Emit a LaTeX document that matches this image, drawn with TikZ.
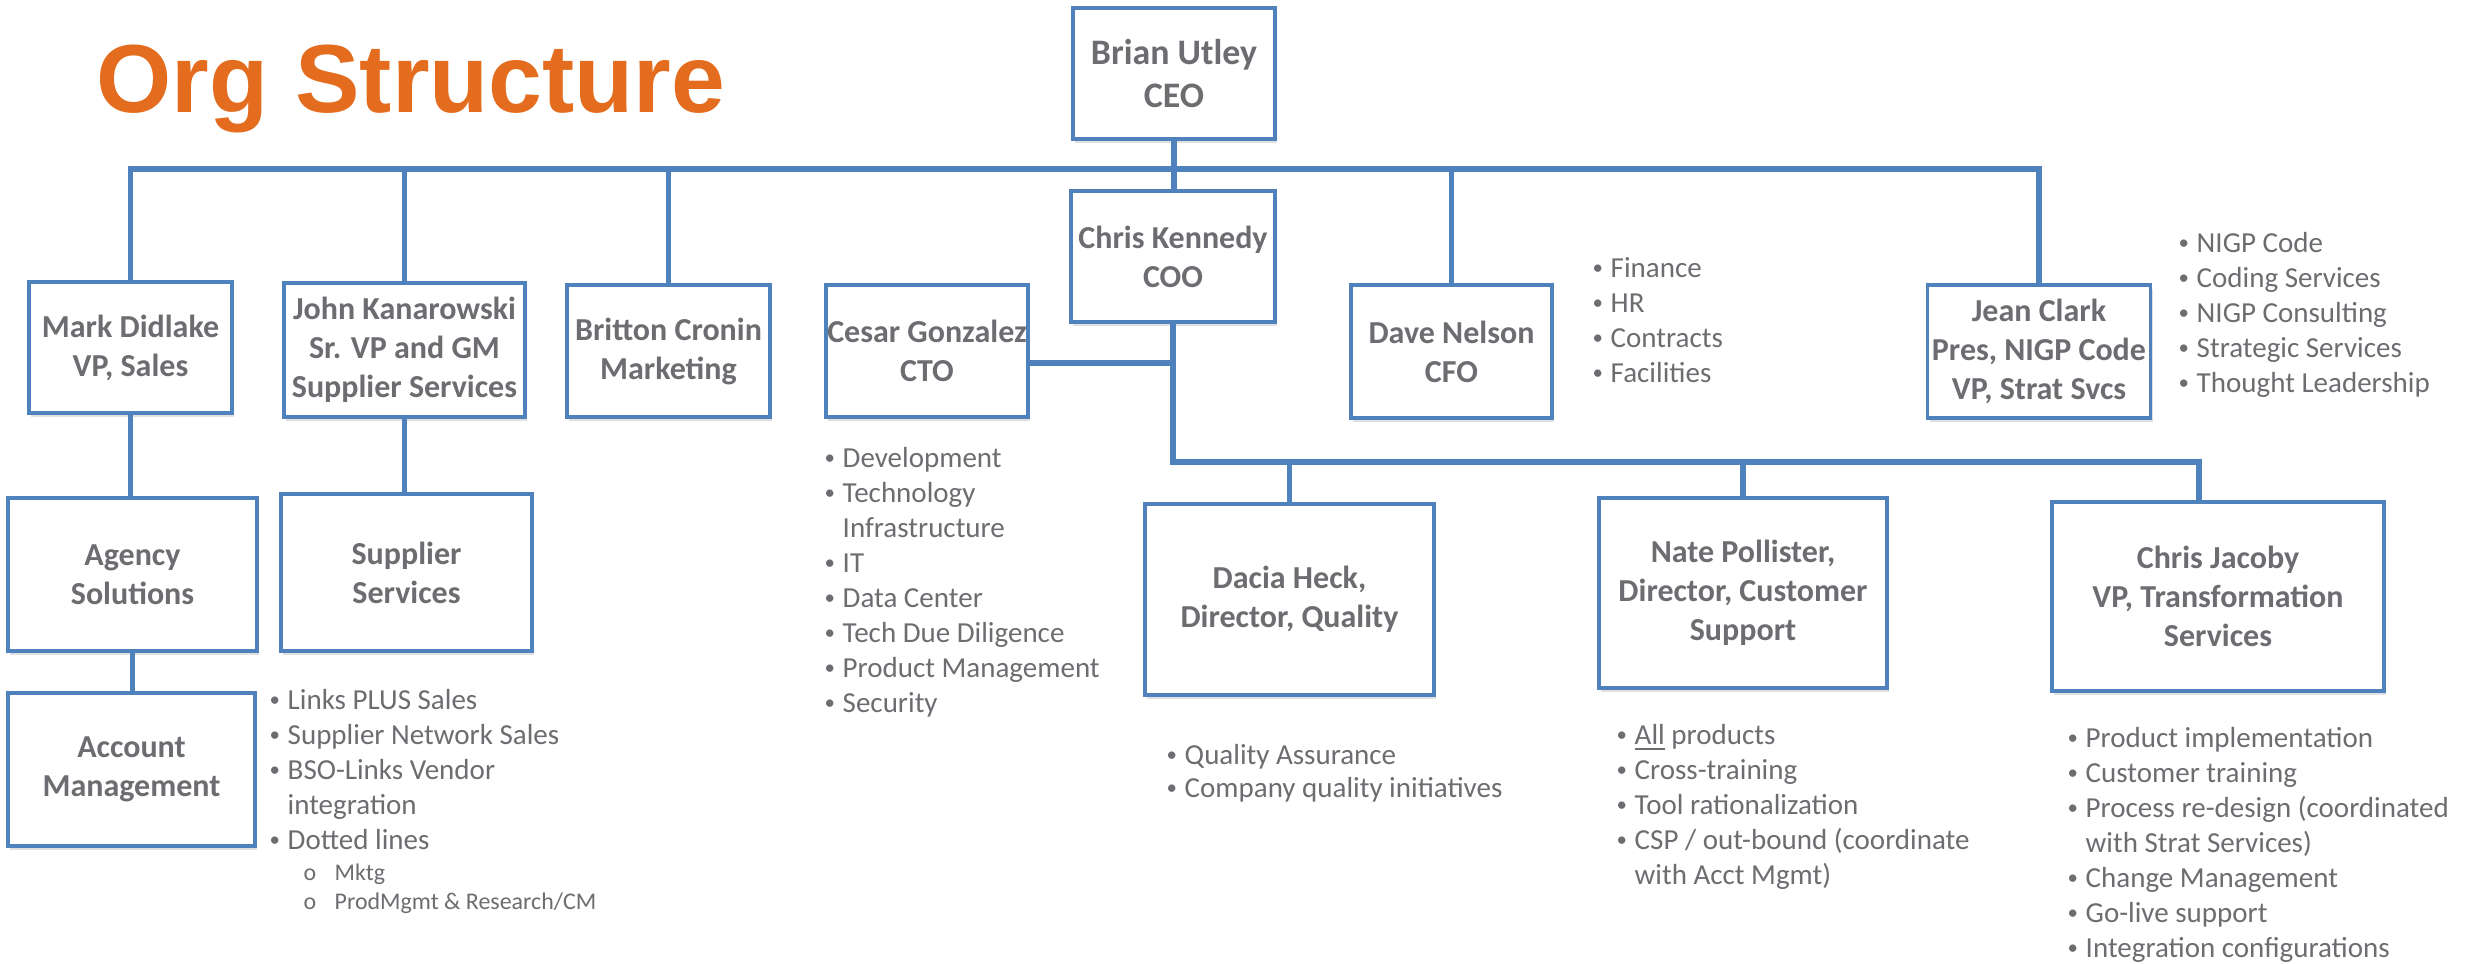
\documentclass[tikz,border=0pt]{standalone}
\usepackage{fontspec}
\setmainfont{Carlito}
\newfontfamily\titlefont{Liberation Sans}
\usetikzlibrary{calc,shadows}

\definecolor{orgblue}{RGB}{79,129,189}
\definecolor{orggray}{RGB}{108,109,113}
\definecolor{orgorange}{RGB}{228,108,30}

\newcommand{\bul}{\makebox[0.19cm][l]{\hspace{0.01cm}\raisebox{0.8pt}{\scalebox{0.72}{\textbullet}}}}
\newcommand{\subfont}{\fontsize{6.8pt}{8.25pt}\selectfont}
\newcommand{\subbul}[1]{{\subfont\hspace{0.16cm}\makebox[0.31cm][l]{o}#1}}

\begin{document}
\begin{tikzpicture}[
    x=0.01cm, y=-0.01cm,
    box/.style={draw=orgblue,line width=1pt,fill=white,text=orggray,align=center,inner sep=0pt,
        font=\fontsize{9.1pt}{11.1pt}\selectfont\bfseries,
        drop shadow={shadow xshift=0.02cm,shadow yshift=-0.04cm,fill=black,opacity=0.12}},
    boxsize/.style 2 args={minimum width=#1*0.01cm,minimum height=#2*0.01cm},
    list/.style={anchor=base west,inner sep=0pt,text=orggray,font=\fontsize{8.25pt}{9.96pt}\selectfont},
    link/.style={draw=orgblue,line width=1.55pt},
]

\path[use as bounding box,fill=white] (0,0) rectangle (2478,963);

% Title
\node[anchor=base west,inner sep=0pt,text=orgorange,font=\titlefont\fontsize{27.5pt}{30pt}\selectfont\bfseries] (title) at (96,112) {Org Structure};

% Top level
\node[box,boxsize={202}{131},font=\fontsize{10.2pt}{12.2pt}\selectfont\bfseries] (CEO) at (1174,73.5) {Brian Utley\\CEO};
\node[box,boxsize={204}{131}] (COO) at (1173,256.5) {Chris Kennedy\\COO};

% Direct reports
\node[box,boxsize={203}{131}] (Mark) at (130.5,347.5) {Mark Didlake\\VP, Sales};
\node[box,boxsize={241}{134}] (John) at (404.5,350) {John Kanarowski\\Sr. VP and GM\\Supplier Services};
\node[box,boxsize={203}{132}] (Britton) at (668.5,351) {Britton Cronin\\Marketing};
\node[box,boxsize={202}{132}] (Cesar) at (927,351) {Cesar Gonzalez\\CTO};
\node[box,boxsize={201}{133}] (Dave) at (1451.5,351.5) {Dave Nelson\\CFO};
\node[box,boxsize={223}{133}] (Jean) at (2039,351.5) {Jean Clark\\Pres, NIGP Code\\VP, Strat Svcs};

% Sales and supplier teams
\node[box,boxsize={249}{153}] (Agency) at (132.5,574.5) {Agency\\Solutions};
\node[box,boxsize={251}{157}] (Supplier) at (406.5,572.5) {Supplier\\Services};
\node[box,boxsize={247}{153}] (Account) at (131.5,769.5) {Account\\Management};

% COO teams
\node[box,boxsize={289}{191}] (Dacia) at (1289.5,599.5) {Dacia Heck,\\Director, Quality};
\node[box,boxsize={288}{190}] (Nate) at (1743,593) {Nate Pollister,\\Director, Customer\\Support};
\node[box,boxsize={332}{189}] (Jacoby) at (2218,596.5) {Chris Jacoby\\VP, Transformation\\Services};

% Lists
\node[list] (AMlist) at (268,709) {\begin{tabular}[t]{@{}l@{}l@{}}
\bul & Links PLUS Sales\\
\bul & Supplier Network Sales\\
\bul & BSO-Links Vendor\\
     & integration\\
\bul & Dotted lines\\[-0.04cm]
     & \subbul{Mktg}\\[-0.06cm]
     & \subbul{ProdMgmt \& Research/CM}
\end{tabular}};

\node[list] (CTOlist) at (823,467) {\begin{tabular}[t]{@{}l@{}l@{}}
\bul & Development\\
\bul & Technology\\
     & Infrastructure\\
\bul & IT\\
\bul & Data Center\\
\bul & Tech Due Diligence\\
\bul & Product Management\\
\bul & Security
\end{tabular}};

\node[list] (CFOlist) at (1591,277) {\begin{tabular}[t]{@{}l@{}l@{}}
\bul & Finance\\
\bul & HR\\
\bul & Contracts\\
\bul & Facilities
\end{tabular}};

\node[list] (NIGPlist) at (2177,252) {\begin{tabular}[t]{@{}l@{}l@{}}
\bul & NIGP Code\\
\bul & Coding Services\\
\bul & NIGP Consulting\\
\bul & Strategic Services\\
\bul & Thought Leadership
\end{tabular}};

\node[list] (QAlist) at (1165,764) {\begin{tabular}[t]{@{}l@{}l@{}}
\bul & Quality Assurance\\[-0.02cm]
\bul & Company quality initiatives
\end{tabular}};

\node[list] (CSlist) at (1615,744) {\begin{tabular}[t]{@{}l@{}l@{}}
\bul & \underline{All} products\\
\bul & Cross-training\\
\bul & Tool rationalization\\
\bul & CSP / out-bound (coordinate\\
     & with Acct Mgmt)
\end{tabular}};

\node[list] (TSlist) at (2066,747) {\begin{tabular}[t]{@{}l@{}l@{}}
\bul & Product implementation\\
\bul & Customer training\\
\bul & Process re-design (coordinated\\
     & with Strat Services)\\
\bul & Change Management\\
\bul & Go-live support\\
\bul & Integration configurations
\end{tabular}};

% Connections
\coordinate (topbus) at (0,169);
\coordinate (lowbus) at (0,462);
\coordinate (JacobyIn) at ($(Jacoby.north)+(-19,0)$);

\draw[link] (Mark.north) -- (Mark.north |- topbus) -- (Jean.north |- topbus) -- (Jean.north);
\draw[link] (John.north) -- (John.north |- topbus);
\draw[link] (Britton.north) -- (Britton.north |- topbus);
\draw[link] (Dave.north) -- (Dave.north |- topbus);
\draw[link] (CEO.south) -- (CEO.south |- COO.north);

\draw[link] (Mark.south) -- (Mark.south |- Agency.north);
\draw[link] (Agency.south) -- (Agency.south |- Account.north);
\draw[link] (John.south) -- (John.south |- Supplier.north);

\draw[link] (COO.south) -- (COO.south |- lowbus) -- (JacobyIn |- lowbus) -- (JacobyIn);
\draw[link] ($(Cesar.east)+(0,12)$) -- ($(Cesar.east -| COO.south)+(0,12)$);
\draw[link] (Dacia.north) -- (Dacia.north |- lowbus);
\draw[link] (Nate.north) -- (Nate.north |- lowbus);

\end{tikzpicture}
\end{document}
